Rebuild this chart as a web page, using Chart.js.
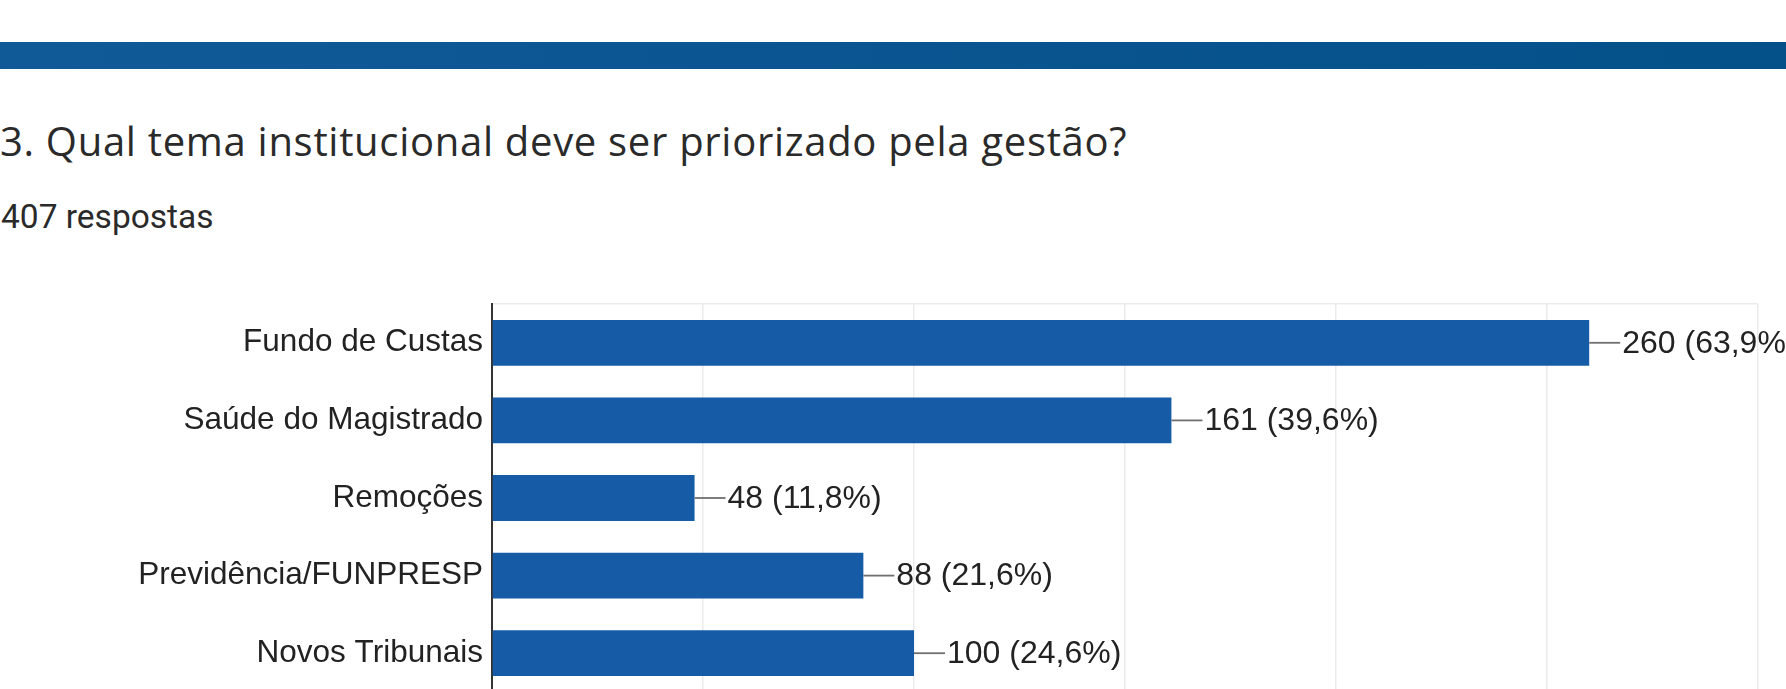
<!DOCTYPE html>
<html lang="pt-BR">
<head>
    <meta charset="UTF-8">
    <title>Qual tema institucional deve ser priorizado pela gestão?</title>
    <script src="https://cdn.jsdelivr.net/npm/chart.js"></script>
    <style>
        html, body { margin: 0; padding: 0; background: #fff; overflow: hidden; }
        body { width: 1786px; height: 689px; position: relative; }
        .band { position: absolute; left: 0; top: 42px; width: 1786px; height: 27px;
                background: linear-gradient(to right, #105a98, #045089); }
        .title { position: absolute; left: 0; top: 121px; font: 40px "Open Sans", sans-serif;
                 letter-spacing: 0.7px; line-height: 40px; color: #2a2a2a; white-space: nowrap; }
        .sub { position: absolute; left: 1px; top: 200px; font: 33.5px Roboto, sans-serif;
               line-height: 33px; color: #2a2a2a; white-space: nowrap; }
        .chart { position: absolute; left: 0; top: 280px; width: 1786px; height: 412px; }
    </style>
</head>
<body>
    <div class="band"></div>
    <div class="title">3. Qual tema institucional deve ser priorizado pela gestão?</div>
    <div class="sub">407 respostas</div>
    <div class="chart"><canvas id="chart"></canvas></div>

    <script>
        const categories = ["Fundo de Custas", "Saúde do Magistrado", "Remoções", "Previdência/FUNPRESP", "Novos Tribunais"];
        const votes = [260, 161, 48, 88, 100];
        const totalAnswers = 407;
        const xTicks = [0, 50, 100, 150, 200, 250, 300];

        const pct = v => (v / totalAnswers * 100).toFixed(1).replace(".", ",");

        // value labels with a short leader line, google forms style
        const valueLabels = {
            id: "valueLabels",
            afterDatasetsDraw(chart) {
                const ctx = chart.ctx;
                const meta = chart.getDatasetMeta(0);
                ctx.save();
                meta.data.forEach((bar, i) => {
                    const v = chart.data.datasets[0].data[i];
                    ctx.strokeStyle = "#6f6f6f";
                    ctx.lineWidth = 1.8;
                    ctx.beginPath();
                    ctx.moveTo(bar.x, bar.y);
                    ctx.lineTo(bar.x + 31, bar.y);
                    ctx.stroke();
                    ctx.fillStyle = "#222";
                    ctx.font = "32px 'Liberation Sans', Arial, sans-serif";
                    ctx.textBaseline = "middle";
                    ctx.textAlign = "left";
                    ctx.fillText(`${v} (${pct(v)}%)`, bar.x + 33, bar.y + 1);
                });
                ctx.restore();
            }
        };

        new Chart(document.getElementById("chart"), {
            type: "bar",
            data: {
                labels: categories,
                datasets: [{
                    data: votes,
                    backgroundColor: "#165ba6",
                    borderWidth: 0,
                    barPercentage: 0.59,
                    categoryPercentage: 1
                }]
            },
            options: {
                indexAxis: "y",
                responsive: true,
                maintainAspectRatio: false,
                animation: false,
                layout: { padding: { top: 24, right: 28, left: 0, bottom: 0 } },
                plugins: { legend: { display: false }, tooltip: { enabled: false } },
                scales: {
                    x: {
                        min: 0,
                        max: 300,
                        afterBuildTicks: s => { s.ticks = xTicks.map(v => ({ value: v })); },
                        afterFit: s => { s.height = 0; s.paddingLeft = 0; s.paddingRight = 0; },
                        ticks: { display: false },
                        grid: { color: "#ebebeb", lineWidth: 1.5, drawTicks: false },
                        border: { display: false }
                    },
                    y: {
                        // fixed label column, no extra padding from half label heights
                        afterFit: s => { s.width = 492; s.paddingTop = 0; s.paddingBottom = 0; },
                        ticks: {
                            color: "#222",
                            padding: 9,
                            font: { family: "'Liberation Sans', Arial, sans-serif", size: 31.5 }
                        },
                        grid: {
                            drawTicks: false,
                            lineWidth: 1.5,
                            color: c => c.index === 0 ? "#ebebeb" : "rgba(0,0,0,0)"
                        },
                        border: { display: true, color: "#333", width: 2 }
                    }
                }
            },
            plugins: [valueLabels]
        });
    </script>
</body>
</html>
